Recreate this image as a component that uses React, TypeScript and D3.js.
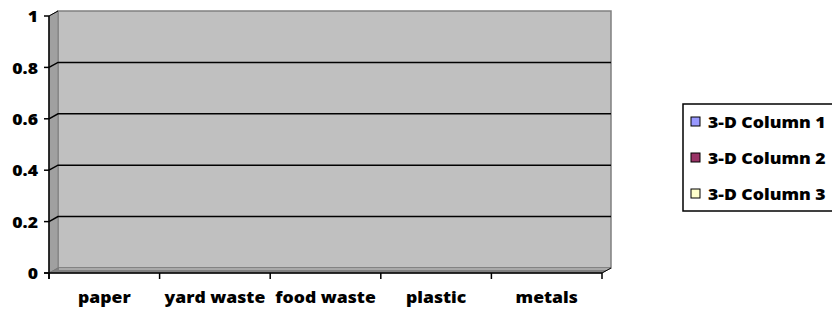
import React from 'react';
import * as d3 from 'd3';

// data
const categories = ['paper', 'yard waste', 'food waste', 'plastic', 'metals'];
const yTicks = [0, 0.2, 0.4, 0.6, 0.8, 1];
const seriesNames = ['3-D Column 1', '3-D Column 2', '3-D Column 3'];
const seriesColors = ['#9999ff', '#993366', '#ffffcc'];

const W = 832;
const H = 311;
const depthX = 9;
const depthY = -5;
const stretch = 1.1;
const font = '"Open Sans", Lato, sans-serif';

function StretchText({x, y, anchor, children}: {x: number, y: number, anchor: string, children: any}) {
    return (
        <g transform={`translate(${x},${y}) scale(${stretch},1)`}>
            <text textAnchor={anchor} dominantBaseline="central" fontFamily={font}
                fontWeight={800} fontSize={16} fill="#000">{children}</text>
        </g>
    );
}

export default function App() {
    const xScale = d3.scaleBand().domain(categories).range([49, 602]);
    const yScale = d3.scaleLinear().domain([0, 1]).range([273, 16]);

    const x0 = xScale.range()[0];
    const x1 = xScale.range()[1];
    const yTop = yScale(1);
    const yBot = yScale(0);

    const backWall = [[x0 + depthX, yTop + depthY], [x1 + depthX, yTop + depthY], [x1 + depthX, yBot + depthY], [x0 + depthX, yBot + depthY]];
    const sideWall = [[x0, yTop], [x0 + depthX, yTop + depthY], [x0 + depthX, yBot + depthY], [x0, yBot]];
    const floor = [[x0, yBot], [x0 + depthX, yBot + depthY], [x1 + depthX, yBot + depthY], [x1, yBot]];
    const line = d3.line();

    const boundaries = categories.map((c) => xScale(c) as number).concat([x1]);

    return (
        <svg width={W} height={H} style={{position: 'absolute', left: 0, top: 0}}>
            <rect width={W} height={H} fill="#fff" />
            {/* walls */}
            <path d={line(backWall as any) + 'Z'} fill="#c0c0c0" stroke="#808080" strokeWidth={1.5} />
            <path d={line(sideWall as any) + 'Z'} fill="#a0a0a0" stroke="#808080" strokeWidth={1} />
            <path d={line(floor as any) + 'Z'} fill="#808080" stroke="#777" strokeWidth={1} />
            <path d={line([[x0 + depthX + 1, yBot + depthY + 1], [x1 + depthX - 1, yBot + depthY + 1]] as any) as string}
                stroke="#b8b8b8" strokeWidth={1.5} />
            {/* gridlines */}
            {yTicks.filter((t) => t > 0 && t < 1).map((t) => (
                <path key={'g' + t}
                    d={line([[x0, yScale(t)], [x0 + depthX, yScale(t) + depthY], [x1 + depthX, yScale(t) + depthY]] as any) as string}
                    fill="none" stroke="#000" strokeWidth={1.5} />
            ))}
            {/* top diagonal tick */}
            <path d={line([[x0, yTop], [x0 + depthX, yTop + depthY]] as any) as string} stroke="#000" strokeWidth={1} />
            {/* y axis */}
            <line x1={x0} x2={x0} y1={yTop} y2={yBot + 6} stroke="#000" strokeWidth={1.5} />
            {yTicks.map((t) => (
                <g key={'y' + t}>
                    <line x1={x0 - 5} x2={x0} y1={yScale(t)} y2={yScale(t)} stroke="#000" strokeWidth={1.5} />
                    <StretchText x={38} y={yScale(t)} anchor="end">{String(t)}</StretchText>
                </g>
            ))}
            {/* x axis */}
            <line x1={x0 - 5} x2={x1} y1={yBot} y2={yBot} stroke="#000" strokeWidth={1.5} />
            <path d={line([[x1, yBot], [x1 + depthX, yBot + depthY]] as any) as string} stroke="#000" strokeWidth={1} />
            {boundaries.map((b, i) => (
                <line key={'xt' + i} x1={b} x2={b} y1={yBot} y2={yBot + 6} stroke="#000" strokeWidth={1.5} />
            ))}
            {categories.map((c) => (
                <StretchText key={c} x={(xScale(c) as number) + xScale.bandwidth() / 2} y={297} anchor="middle">{c}</StretchText>
            ))}
            {/* legend */}
            <rect x={683} y={104} width={160} height={107} fill="#fff" stroke="#000" strokeWidth={1.5} />
            {seriesNames.map((s, i) => (
                <g key={s}>
                    <rect x={691} y={117 + i * 36} width={9} height={9} fill={seriesColors[i]} stroke="#000" strokeWidth={1} />
                    <StretchText x={708} y={122 + i * 36} anchor="start">{s}</StretchText>
                </g>
            ))}
        </svg>
    );
}
